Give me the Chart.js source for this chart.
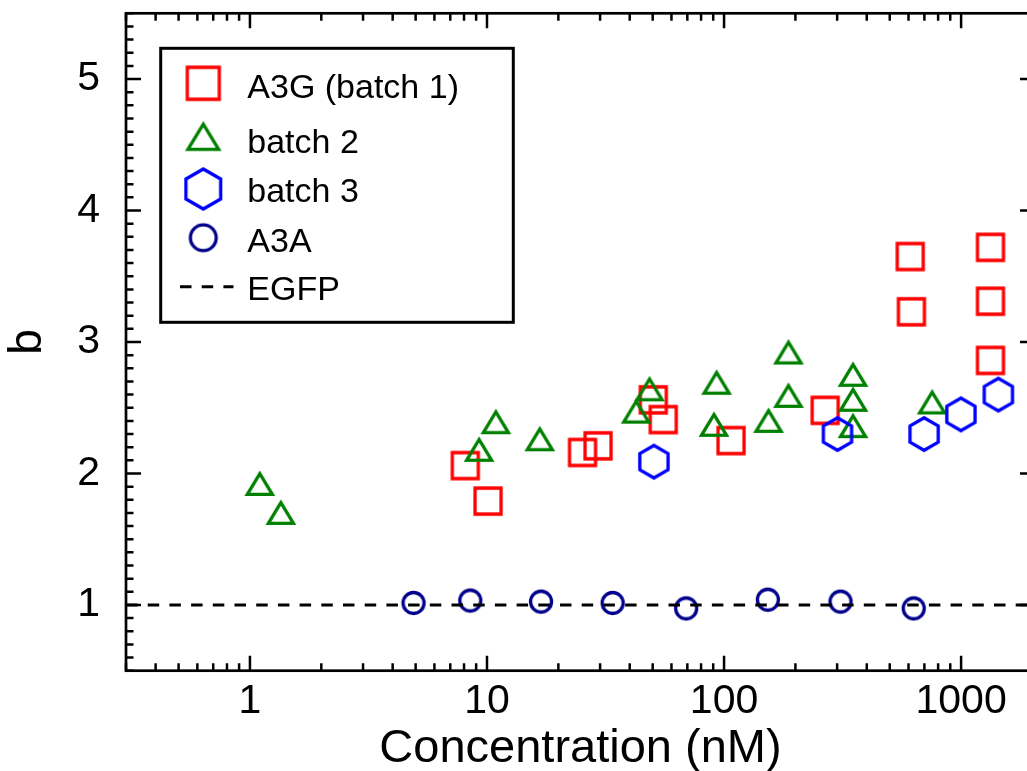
<!DOCTYPE html>
<html>
<head>
<meta charset="utf-8">
<title>b vs concentration</title>
<script src="https://cdn.jsdelivr.net/npm/chart.js@4.4.1/dist/chart.umd.min.js"></script>
<style>
  html, body { margin: 0; padding: 0; background: #fff; overflow: hidden; }
  #wrap { width: 1027px; height: 771px; overflow: hidden; position: relative; }
  canvas { display: block; }
</style>
</head>
<body>
<div id="wrap"><canvas id="bChart" width="1060" height="800"></canvas></div>
<script>
// ---- data: concentration (nM) vs b ----
const a3gConc    = [8.1, 10.1, 25.3, 29.4, 50.3, 55.4, 107, 267, 610, 617, 1330, 1330, 1330];
const a3gB       = [2.06, 1.79, 2.16, 2.21, 2.56, 2.41, 2.25, 2.48, 3.65, 3.23, 3.72, 3.31, 2.86];

const batch2Conc = [1.10, 1.35, 9.26, 10.9, 16.7, 42.6, 48.5, 93, 90.7, 154, 187, 187, 350, 350, 350, 755];
const batch2B    = [1.92, 1.70, 2.18, 2.39, 2.26, 2.47, 2.64, 2.69, 2.37, 2.40, 2.59, 2.92, 2.75, 2.56, 2.36, 2.54];

const batch3Conc = [50.6, 301, 698, 998, 1436];
const batch3B    = [2.09, 2.30, 2.30, 2.45, 2.60];

const a3aConc    = [4.90, 8.50, 16.9, 33.9, 69.2, 153, 310, 631];
const a3aB       = [1.015, 1.033, 1.025, 1.015, 0.974, 1.040, 1.025, 0.974];

const egfpB = 1;

// ---- axes ----
const xRange       = [0.3, 2050];
const yRange       = [0.5, 5.5];
const xTickValues  = [1, 10, 100, 1000];
const xTickLabels  = ['1', '10', '100', '1000'];
const yTickValues  = [1, 2, 3, 4, 5];
const yTickLabels  = ['1', '2', '3', '4', '5'];
const xMinorSteps  = [2, 3, 4, 5, 6, 7, 8, 9];
const yMinorStep   = 0.1;

const FONT = '"Liberation Sans", Arial, Helvetica, sans-serif';

// outline markers drawn once into small canvases (used as pointStyle)
function makeMarker(shape, color, k) {
  const c = document.createElement('canvas');
  const s = Math.ceil(48 * k);
  c.width = s; c.height = s;
  const g = c.getContext('2d');
  const m = s / 2;
  g.strokeStyle = color;
  g.lineWidth = 3.3;
  g.lineJoin = 'miter';
  g.beginPath();
  if (shape === 'square') {
    const h = 13 * k;
    g.rect(m - h, m - h, 2 * h, 2 * h);
  } else if (shape === 'triangle') {
    const w = 12.5 * k, h = 10.3 * k;
    g.moveTo(m - w, m + h);
    g.lineTo(m, m - h);
    g.lineTo(m + w, m + h);
    g.closePath();
  } else if (shape === 'hexagon') {
    const r = 16.3 * k;
    for (let i = 0; i < 6; i++) {
      const a = -Math.PI / 2 + i * Math.PI / 3;
      const px = m + r * Math.cos(a), py = m + r * Math.sin(a);
      if (i === 0) g.moveTo(px, py); else g.lineTo(px, py);
    }
    g.closePath();
  } else {
    g.arc(m, m, 10.5 * k, 0, Math.PI * 2);
  }
  g.stroke();
  return c;
}

const toPoints = (xs, ys) => xs.map((v, i) => ({ x: v, y: ys[i] }));

const series = [
  { label: 'A3G (batch 1)', shape: 'square',   color: '#ff0000', xs: a3gConc,    ys: a3gB,    order: 4 },
  { label: 'batch 2',       shape: 'triangle', color: '#008000', xs: batch2Conc, ys: batch2B, order: 3 },
  { label: 'batch 3',       shape: 'hexagon',  color: '#0000ff', xs: batch3Conc, ys: batch3B, order: 2 },
  { label: 'A3A',           shape: 'circle',   color: '#00008c', xs: a3aConc,    ys: a3aB,    order: 1 },
];

const DASH = [11.5, 10.2];

const datasets = series.map(s => ({
  label: s.label,
  data: toPoints(s.xs, s.ys),
  pointStyle: makeMarker(s.shape, s.color, 1),
  legendMarker: makeMarker(s.shape, s.color, 1.23),
  pointRadius: 12,
  borderColor: s.color,
  order: s.order,
}));

datasets.push({
  label: 'EGFP',
  data: toPoints(xRange, [egfpB, egfpB]),
  showLine: true,
  borderColor: '#000',
  borderWidth: 3,
  borderDash: DASH,
  pointRadius: 0,
  order: 0,
});

// ---- frame + inward ticks on all four sides ----
const frameTicks = {
  id: 'frameTicks',
  afterDatasetsDraw(chart) {
    const { ctx, chartArea: a, scales: { x, y } } = chart;
    const MAJ = 15, MIN = 7.5;
    ctx.save();
    ctx.strokeStyle = '#000';
    ctx.lineWidth = 2.5;
    ctx.lineCap = 'butt';
    ctx.beginPath();

    const xt = [];
    for (let d = -1; d <= 3; d++) {
      const base = Math.pow(10, d);
      xt.push([base, true]);
      xMinorSteps.forEach(m => xt.push([m * base, false]));
    }
    xt.forEach(([v, major]) => {
      if (v < xRange[0] || v > xRange[1]) return;
      const p = x.getPixelForValue(v);
      const len = major ? MAJ : MIN;
      ctx.moveTo(p, a.bottom); ctx.lineTo(p, a.bottom - len);
      ctx.moveTo(p, a.top);    ctx.lineTo(p, a.top + len);
    });

    const n = Math.round((yRange[1] - yRange[0]) / yMinorStep);
    for (let i = 0; i <= n; i++) {
      const v = +(yRange[0] + i * yMinorStep).toFixed(2);
      const major = yTickValues.includes(v);
      const p = y.getPixelForValue(v);
      const len = major ? MAJ : MIN;
      ctx.moveTo(a.left, p);  ctx.lineTo(a.left + len, p);
      ctx.moveTo(a.right, p); ctx.lineTo(a.right - len, p);
    }
    ctx.stroke();

    ctx.lineWidth = 2.7;
    ctx.strokeRect(a.left, a.top, a.right - a.left, a.bottom - a.top);
    ctx.restore();
  }
};

// ---- boxed legend inside the plot ----
const boxLegend = {
  id: 'boxLegend',
  afterDraw(chart) {
    const { ctx } = chart;
    const box = { l: 160.7, t: 48.3, r: 513.3, b: 322.3 };
    const markX = 203.3, textX = 247.3;
    const markY = [83.3, 136.7, 189, 237.7, 286.7];
    const baseY = [98.3, 153.3, 202.3, 251.7, 300];

    ctx.save();
    ctx.fillStyle = '#fff';
    ctx.fillRect(box.l, box.t, box.r - box.l, box.b - box.t);
    ctx.strokeStyle = '#000';
    ctx.lineWidth = 3;
    ctx.strokeRect(box.l, box.t, box.r - box.l, box.b - box.t);

    ctx.font = '34px ' + FONT;
    ctx.fillStyle = '#000';
    ctx.textBaseline = 'alphabetic';
    chart.data.datasets.forEach((ds, i) => {
      if (ds.legendMarker) {
        const c = ds.legendMarker;
        ctx.drawImage(c, markX - c.width / 2, markY[i] - c.height / 2);
      } else {
        ctx.beginPath();
        ctx.setLineDash(ds.borderDash || []);
        ctx.lineWidth = ds.borderWidth;
        ctx.strokeStyle = ds.borderColor;
        ctx.moveTo(180, markY[i]);
        ctx.lineTo(233.5, markY[i]);
        ctx.stroke();
        ctx.setLineDash([]);
      }
      ctx.fillText(ds.label, textX, baseY[i]);
    });
    ctx.restore();
  }
};

const CANVAS_W = 1060, CANVAS_H = 800;
const AREA = { left: 126, top: 13.3, right: 1035, bottom: 670.7 };

// drop the label overhang padding so the plot box sits where we put it
const noOverhang = (s) => {
  s.paddingTop = 0; s.paddingBottom = 0;
  s.paddingLeft = 0; s.paddingRight = 0;
};

new Chart(document.getElementById('bChart'), {
  type: 'scatter',
  data: { datasets },
  options: {
    responsive: false,
    animation: false,
    events: [],
    layout: { padding: { left: 0, top: AREA.top, right: CANVAS_W - AREA.right, bottom: 0 } },
    plugins: {
      legend: { display: false },
      tooltip: { enabled: false },
    },
    scales: {
      x: {
        type: 'logarithmic',
        min: xRange[0],
        max: xRange[1],
        grid: { display: false, drawTicks: false },
        border: { display: false },
        afterBuildTicks: (s) => { s.ticks = xTickValues.map(v => ({ value: v })); },
        afterFit: (s) => { s.height = CANVAS_H - AREA.bottom; noOverhang(s); },
        ticks: {
          autoSkip: false,
          maxRotation: 0,
          padding: 6.7,
          color: '#000',
          font: { family: FONT, size: 41 },
          callback: (v) => xTickLabels[xTickValues.indexOf(v)] ?? '',
        },
        title: {
          display: true,
          text: 'Concentration (nM)',
          color: '#000',
          font: { family: FONT, size: 47 },
          padding: { top: 0, bottom: 23 },
        },
      },
      y: {
        type: 'linear',
        min: yRange[0],
        max: yRange[1],
        grid: { display: false, drawTicks: false },
        border: { display: false },
        afterBuildTicks: (s) => { s.ticks = yTickValues.map(v => ({ value: v })); },
        afterFit: (s) => { s.width = AREA.left; noOverhang(s); },
        ticks: {
          autoSkip: false,
          padding: 26,
          color: '#000',
          font: { family: FONT, size: 41 },
          callback: (v) => yTickLabels[yTickValues.indexOf(v)] ?? '',
        },
        title: {
          display: true,
          text: 'b',
          color: '#000',
          font: { family: FONT, size: 46 },
          padding: { top: 1, bottom: 0 },
        },
      },
    },
  },
  plugins: [frameTicks, boxLegend],
});
</script>
</body>
</html>
